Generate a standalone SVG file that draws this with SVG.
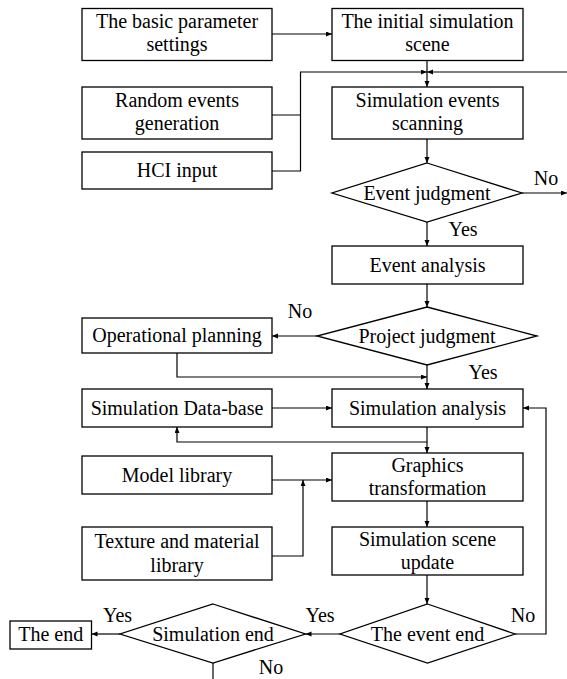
<svg xmlns="http://www.w3.org/2000/svg" width="567" height="679" viewBox="0 0 567 679">
<style>
.box{fill:#fff;stroke:#000;stroke-width:1.3}
.ln{fill:none;stroke:#000;stroke-width:1.2}
.t text{font-size:20px;fill:#000;text-anchor:middle}
</style>
<defs>
<marker id="ah" markerUnits="userSpaceOnUse" markerWidth="7" markerHeight="6" refX="6" refY="2.5" orient="auto">
<path d="M0,0 L6,2.5 L0,5 z" fill="#000"/>
</marker>
</defs>
<rect width="567" height="679" fill="#fff"/>
<g id="connectors">
<path class="ln" d="M272,34 L332,34" marker-end="url(#ah)"/>
<path class="ln" d="M427,60 L427,87" marker-end="url(#ah)"/>
<path class="ln" d="M272,115 L300.5,115 M272,171 L300.5,171 L300.5,72 L427,72" marker-end="url(#ah)"/>
<path class="ln" d="M567,72 L427,72" marker-end="url(#ah)"/>
<path class="ln" d="M427,139 L427,163" marker-end="url(#ah)"/>
<path class="ln" d="M522,193 L567,193" marker-end="url(#ah)"/>
<path class="ln" d="M427,222 L427,246" marker-end="url(#ah)"/>
<path class="ln" d="M427,284 L427,307" marker-end="url(#ah)"/>
<path class="ln" d="M317,336 L272,336" marker-end="url(#ah)"/>
<path class="ln" d="M177,353 L177,377 L427,377" marker-end="url(#ah)"/>
<path class="ln" d="M427,365 L427,389" marker-end="url(#ah)"/>
<path class="ln" d="M272,408 L332,408" marker-end="url(#ah)"/>
<path class="ln" d="M427,427 L427,453" marker-end="url(#ah)"/>
<path class="ln" d="M427,442 L177,442 L177,427" marker-end="url(#ah)"/>
<path class="ln" d="M272,480 L332,480" marker-end="url(#ah)"/>
<path class="ln" d="M272,556 L303,556 L303,480" marker-end="url(#ah)"/>
<path class="ln" d="M427,501 L427,527" marker-end="url(#ah)"/>
<path class="ln" d="M427,575 L427,604" marker-end="url(#ah)"/>
<path class="ln" d="M515,634 L546,634 L546,408 L523,408" marker-end="url(#ah)"/>
<path class="ln" d="M340,634 L305.5,634" marker-end="url(#ah)"/>
<path class="ln" d="M120,634 L91.5,634" marker-end="url(#ah)"/>
<path class="ln" d="M213,663 L213,679"/>
</g>
<g class="t" font-family="'Liberation Serif', 'Times New Roman', 'DejaVu Serif', serif">
<g id="n-basic"><rect class="box" x="82" y="8.5" width="190" height="52"/><text x="177" y="28">The basic parameter</text><text x="177" y="51">settings</text></g>
<g id="n-initial"><rect class="box" x="332" y="8.5" width="191" height="52"/><text x="427.5" y="28">The initial simulation</text><text x="427.5" y="51">scene</text></g>
<g id="n-random"><rect class="box" x="82" y="87" width="190" height="52"/><text x="177" y="107">Random events</text><text x="177" y="130">generation</text></g>
<g id="n-scan"><rect class="box" x="332" y="87" width="191" height="52"/><text x="427.5" y="107">Simulation events</text><text x="427.5" y="130">scanning</text></g>
<g id="n-hci"><rect class="box" x="82" y="152" width="190" height="37"/><text x="177" y="177">HCI input</text></g>
<g id="n-eventjudg"><polygon class="box" points="427,163 522,193 427,222 332,193"/><text x="427" y="200">Event judgment</text></g>
<g id="n-eventanalysis"><rect class="box" x="332" y="246" width="191" height="38"/><text x="427.5" y="272">Event analysis</text></g>
<g id="n-projjudg"><polygon class="box" points="427,307 537,336 427,365 317,336"/><text x="427" y="343">Project judgment</text></g>
<g id="n-opplan"><rect class="box" x="82" y="318" width="190" height="35"/><text x="177" y="342">Operational planning</text></g>
<g id="n-database"><rect class="box" x="82" y="389" width="190" height="38"/><text x="177" y="415">Simulation Data-base</text></g>
<g id="n-simanalysis"><rect class="box" x="332" y="389" width="191" height="38"/><text x="427.5" y="415">Simulation analysis</text></g>
<g id="n-model"><rect class="box" x="82" y="456" width="190" height="38"/><text x="177" y="482">Model library</text></g>
<g id="n-graphics"><rect class="box" x="332" y="453" width="191" height="48"/><text x="427.5" y="472">Graphics</text><text x="427.5" y="495">transformation</text></g>
<g id="n-texture"><rect class="box" x="82" y="527" width="190" height="53"/><text x="177" y="548">Texture and material</text><text x="177" y="572">library</text></g>
<g id="n-sceneupdate"><rect class="box" x="332" y="527" width="191" height="48"/><text x="427.5" y="546">Simulation scene</text><text x="427.5" y="569">update</text></g>
<g id="n-eventend"><polygon class="box" points="427.5,604 515,634 427.5,663 340,634"/><text x="427.5" y="641">The event end</text></g>
<g id="n-simend"><polygon class="box" points="213,604 305.5,634 213,663 120,634"/><text x="213" y="641">Simulation end</text></g>
<g id="n-end"><rect class="box" x="10" y="621" width="81.5" height="28"/><text x="50.7" y="641">The end</text></g>
<g id="labels">
<text x="546" y="185">No</text>
<text x="463" y="236">Yes</text>
<text x="300" y="318">No</text>
<text x="483" y="379">Yes</text>
<text x="523" y="622">No</text>
<text x="320" y="622">Yes</text>
<text x="117.5" y="622">Yes</text>
<text x="271" y="674">No</text>
</g>
</g>
</svg>
